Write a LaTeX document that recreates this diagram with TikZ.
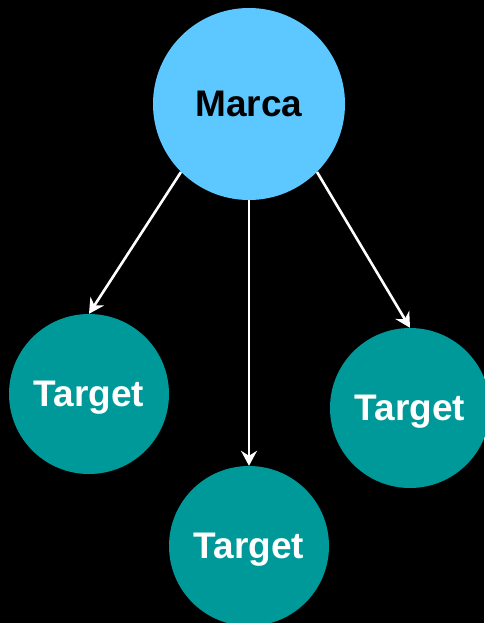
\documentclass[tikz,border=0pt]{standalone}
\usepackage{fontspec}
\setmainfont{Liberation Sans}
\usetikzlibrary{positioning,arrows.meta}
\definecolor{brandBlue}{HTML}{5CC8FF}
\definecolor{targetTeal}{HTML}{009999}

\begin{document}
\begin{tikzpicture}[
    x=1pt, y=-1pt,
    brand/.style={circle, fill=brandBlue, minimum size=192pt, inner sep=0pt, font=\bfseries\fontsize{37}{40}\selectfont, text=black},
    tgt/.style={circle, fill=targetTeal, minimum size=160pt, inner sep=0pt, text depth=0pt, font=\bfseries\fontsize{37}{40}\selectfont, text=white},
    link/.style={-{Stealth[length=15pt, width=16pt, inset=5pt]}, white, line width=2.6pt},
]
\fill[black] (0, 0) rectangle (484, 623);
\useasboundingbox (0, 0) rectangle (484, 623);
\node[brand] (marca) at (249, 104) {Marca};
\node[tgt] (tLeft) at (89, 394) {Target};
\node[tgt] (tMid) at (249, 546) {Target};
\node[tgt] (tRight) at (410, 408) {Target};
\draw[link] (marca.225) -- (tLeft.north);
\draw[link] (marca.south) -- (tMid.north);
\draw[link] (marca.315) -- (tRight.north);
\end{tikzpicture}
\end{document}
